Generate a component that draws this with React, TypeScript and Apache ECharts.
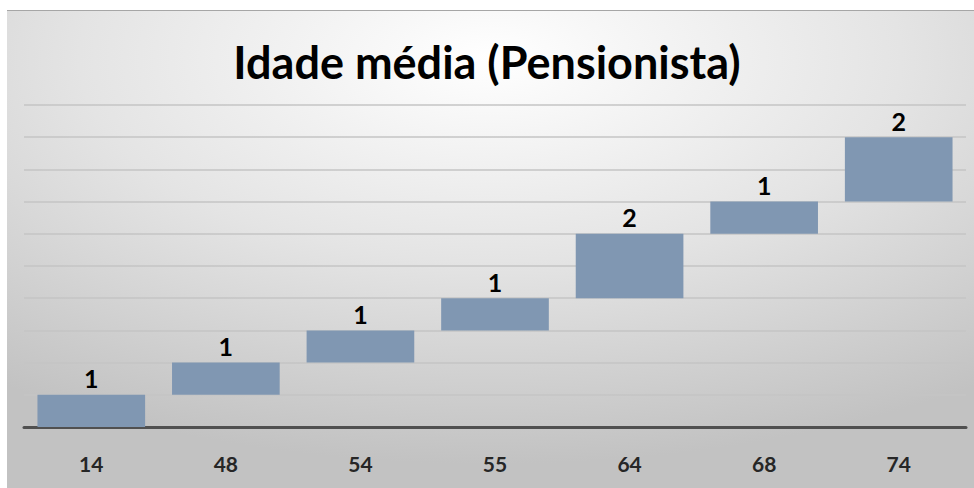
import React, { useEffect, useRef } from "react";
import * as echarts from "echarts";

const categories = ["14", "48", "54", "55", "64", "68", "74"];
const increments = [1, 1, 1, 1, 2, 1, 2];
const titleText = "Idade média (Pensionista)";

export default function App() {
  const ref = useRef<HTMLDivElement>(null);
  useEffect(() => {
    if (!ref.current) return;
    const chart = echarts.init(ref.current, null, { renderer: "svg" });
    const bases: number[] = [];
    let acc = 0;
    for (const v of increments) {
      bases.push(acc);
      acc += v;
    }
    chart.setOption({
      animation: false,
      graphic: [
        {
          type: "rect",
          z: -10,
          silent: true,
          shape: { x: 7, y: 10, width: 967, height: 478 },
          style: {
            fill: {
              type: "radial",
              x: 0.5,
              y: 0.1,
              r: 0.85,
              colorStops: [
                { offset: 0, color: "#ffffff" },
                { offset: 0.5, color: "#e4e4e4" },
                { offset: 1, color: "#c2c2c2" },
              ],
            },
          },
        },
        {
          type: "line",
          z: -9,
          silent: true,
          shape: { x1: 7, y1: 10.5, x2: 974, y2: 10.5 },
          style: { stroke: "#a6a6a6", lineWidth: 1 },
        },
      ],
      title: {
        text: titleText,
        left: "center",
        top: 34,
        textStyle: {
          fontFamily: "Lato",
          fontWeight: "bold",
          fontSize: 45,
          color: "#000000",
        },
      },
      grid: { left: 24, right: 8, top: 105, bottom: 61, containLabel: false },
      xAxis: {
        type: "category",
        data: categories,
        axisLine: { lineStyle: { color: "#505050", width: 3 } },
        axisTick: { show: false },
        axisLabel: {
          margin: 26,
          fontFamily: "Lato",
          fontWeight: "bold",
          fontSize: 21,
          color: "#262626",
        },
      },
      yAxis: {
        type: "value",
        min: 0,
        max: 10,
        interval: 1,
        axisLabel: { show: false },
        axisLine: { show: false },
        axisTick: { show: false },
        splitLine: { lineStyle: { color: "#c4c4c4", width: 1.5 } },
      },
      series: [
        {
          type: "bar",
          stack: "w",
          data: bases,
          barCategoryGap: "20%",
          itemStyle: { color: "transparent" },
          silent: true,
        },
        {
          type: "bar",
          stack: "w",
          data: increments,
          barCategoryGap: "20%",
          itemStyle: { color: "#8097b2" },
          label: {
            show: true,
            position: "top",
            distance: 4,
            fontFamily: "Lato",
            fontWeight: "bold",
            fontSize: 25,
            color: "#000000",
          },
        },
      ],
    });
    return () => chart.dispose();
  }, []);
  return (
    <div
      ref={ref}
      style={{ position: "fixed", left: 0, top: 0, width: 974, height: 488, background: "#ffffff" }}
    />
  );
}
